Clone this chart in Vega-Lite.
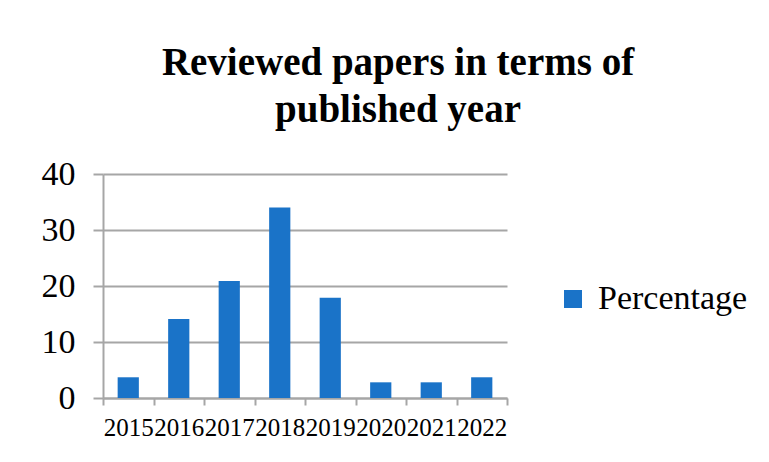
{
  "$schema": "https://vega.github.io/schema/vega-lite/v6.json",
  "autosize": "none",
  "width": 404,
  "height": 224,
  "padding": {"left": 103, "top": 174, "right": 262, "bottom": 64},
  "background": "white",
  "data": {
    "values": [
      {"year": "2015", "value": 3.7},
      {"year": "2016", "value": 14.1},
      {"year": "2017", "value": 20.9},
      {"year": "2018", "value": 34},
      {"year": "2019", "value": 17.9},
      {"year": "2020", "value": 2.8},
      {"year": "2021", "value": 2.8},
      {"year": "2022", "value": 3.7}
    ]
  },
  "title": {
    "text": ["Reviewed papers in terms of", "published year"],
    "font": "Liberation Serif, Times New Roman, serif",
    "fontSize": 39,
    "fontWeight": "bold",
    "color": "black",
    "lineHeight": 47,
    "anchor": "middle",
    "frame": "group",
    "dx": 93,
    "offset": 27
  },
  "mark": {"type": "bar", "width": {"band": 0.42}},
  "encoding": {
    "x": {
      "field": "year",
      "type": "nominal",
      "scale": {"paddingInner": 0, "paddingOuter": 0},
      "axis": {
        "title": null,
        "labelAngle": 0,
        "labelFont": "Liberation Serif, Times New Roman, serif",
        "labelFontSize": 25,
        "labelColor": "black",
        "labelOverlap": false,
        "labelPadding": 10,
        "tickBand": "extent",
        "tickSize": 7,
        "tickColor": "#a6a6a6",
        "tickWidth": 2,
        "domainColor": "#a6a6a6",
        "domainWidth": 2,
        "grid": false
      }
    },
    "y": {
      "field": "value",
      "type": "quantitative",
      "scale": {"domain": [0, 40]},
      "axis": {
        "title": null,
        "values": [0, 10, 20, 30, 40],
        "labelFont": "Liberation Serif, Times New Roman, serif",
        "labelFontSize": 34,
        "labelColor": "black",
        "labelPadding": 18,
        "tickSize": 10,
        "tickColor": "#a6a6a6",
        "tickWidth": 2,
        "domainColor": "#a6a6a6",
        "domainWidth": 2,
        "grid": true,
        "gridColor": "#a6a6a6",
        "gridWidth": 2
      }
    },
    "color": {
      "datum": "Percentage",
      "scale": {"range": ["#1a73c8"]},
      "legend": {
        "title": null,
        "orient": "none",
        "legendX": 453,
        "legendY": 108,
        "symbolType": "square",
        "symbolSize": 324,
        "symbolStrokeWidth": 0,
        "labelFont": "Liberation Serif, Times New Roman, serif",
        "labelFontSize": 34,
        "labelColor": "black",
        "labelOffset": 8
      }
    }
  },
  "config": {"view": {"stroke": null}, "font": "Liberation Serif, Times New Roman, serif"}
}
